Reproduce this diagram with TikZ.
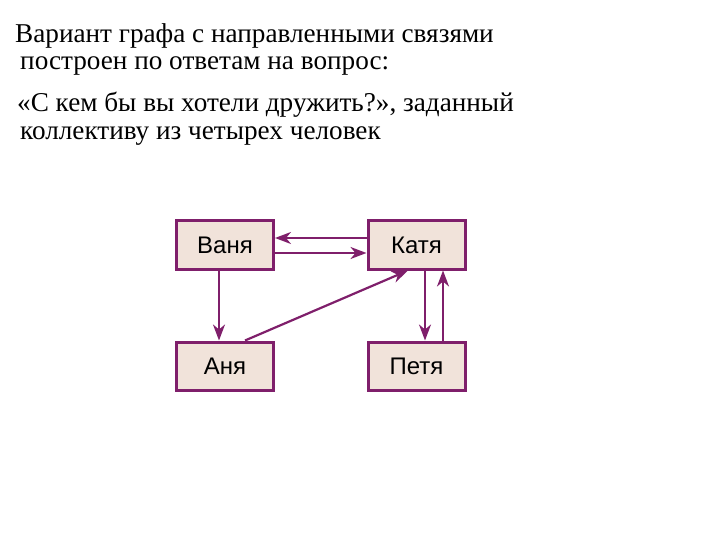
\documentclass[tikz,border=0pt]{standalone}
\usepackage{fontspec}
\setmainfont{Liberation Serif}
\newfontfamily\boxfont{Liberation Sans}
\usetikzlibrary{arrows.meta}
\definecolor{edge}{HTML}{7F1F6B}
\definecolor{boxfill}{HTML}{F1E3DA}
\begin{document}
\begin{tikzpicture}[x=1pt,y=-1pt,
  person/.style={draw=edge, line width=3pt, fill=boxfill, minimum width=97pt, minimum height=48pt, inner sep=0pt, font=\boxfont\fontsize{24}{28}\selectfont},
  link/.style={draw=edge, line width=2.2pt, -{Stealth[length=16pt,width=12pt,inset=5pt]}},
  caption/.style={anchor=base west, inner sep=0pt, font=\fontsize{27.2}{31}\selectfont}]
\useasboundingbox (0,0) rectangle (720,540);
\node[caption] (l1) at (15,43) {Вариант графа с направленными связями};
\node[caption] (l2) at (20,70) {построен по ответам на вопрос:};
\node[caption] (l3) at (17,112) {«С кем бы вы хотели дружить?», заданный};
\node[caption] (l4) at (20,140) {коллективу из четырех человек};
\node[person] (vanya) at (225,245) {Ваня};
\node[person] (katya) at (416.5,245) {Катя};
\node[person] (anya) at (225,366) {Аня};
\node[person] (petya) at (416.5,366) {Петя};
\draw[link] (katya.west |- 0,238) -- (vanya.east |- 0,238);
\draw[link] (vanya.east |- 0,253) -- (katya.west |- 0,253);
\draw[link] (vanya.south -| 219,0) -- (anya.north -| 219,0);
\draw[link] (anya.north -| 245,0) -- (katya.south -| 408,0);
\draw[link] (katya.south -| 425,0) -- (petya.north -| 425,0);
\draw[link] (petya.north -| 443,0) -- (katya.south -| 443,0);
\end{tikzpicture}
\end{document}
